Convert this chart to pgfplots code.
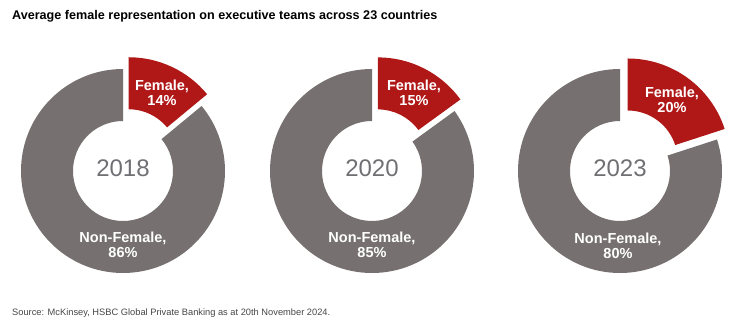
\documentclass[border=0pt]{standalone}
\usepackage{pgfplots}
\pgfplotsset{compat=1.18}
\usepackage{fontspec}
\setmainfont{Liberation Sans}
\definecolor{donutgrey}{RGB}{118,113,112}
\definecolor{donutred}{RGB}{176,24,24}
\definecolor{yeargrey}{RGB}{112,112,116}
\definecolor{srcgrey}{RGB}{70,70,70}
% #1 centre x (px), #2 year, #3 female share (%)
\newcommand{\donut}[3]{%
  \fill[donutgrey, shift={(axis cs:#1,153)}]
    (90:102pt) arc[start angle=90, end angle={450-#3*3.6}, radius=102pt]
    -- ({450-#3*3.6}:50pt) arc[start angle={450-#3*3.6}, end angle=90, radius=50pt] -- cycle;
  \fill[donutred, shift={(axis cs:#1,153)}, shift={({90-#3*1.8}:13pt)}]
    (90:102pt) arc[start angle=90, end angle={90-#3*3.6}, radius=102pt]
    -- ({90-#3*3.6}:50pt) arc[start angle={90-#3*3.6}, end angle=90, radius=50pt] -- cycle;
  \node[text=yeargrey, font=\fontsize{24}{28}\selectfont, anchor=center] at (axis cs:#1,156) {#2};
}
\begin{document}
\begin{tikzpicture}
\begin{axis}[
  scale only axis, width=745pt, height=324pt,
  xmin=0, xmax=745, ymin=0, ymax=324,
  hide axis, clip=false]
\path (rel axis cs:0,0) rectangle (rel axis cs:1,1);
\donut{123}{2018}{14}
\donut{372}{2020}{15}
\donut{620}{2023}{20}
% wedge labels
\node[text=white, font=\bfseries\fontsize{14.5}{15.5}\selectfont, align=center] at (axis cs:162,231) {Female,\\14\%};
\node[text=white, font=\bfseries\fontsize{14.5}{15.5}\selectfont, align=center] at (axis cs:123,79) {Non-Female,\\86\%};
\node[text=white, font=\bfseries\fontsize{14.5}{15.5}\selectfont, align=center] at (axis cs:414,231) {Female,\\15\%};
\node[text=white, font=\bfseries\fontsize{14.5}{15.5}\selectfont, align=center] at (axis cs:372,79) {Non-Female,\\85\%};
\node[text=white, font=\bfseries\fontsize{14.5}{15.5}\selectfont, align=center] at (axis cs:672,224) {Female,\\20\%};
\node[text=white, font=\bfseries\fontsize{14.5}{15.5}\selectfont, align=center] at (axis cs:618,78) {Non-Female,\\80\%};
% title and source
\node[anchor=base west, font=\bfseries\fontsize{12.6}{14}\selectfont, inner sep=0pt] at (axis cs:12,304) {Average female representation on executive teams across 23 countries};
\node[anchor=base west, text=srcgrey, font=\fontsize{9.3}{11}\selectfont, inner sep=0pt] at (axis cs:12,8) {Source: McKinsey, HSBC Global Private Banking as at 20th November 2024.};
\end{axis}
\end{tikzpicture}
\end{document}
